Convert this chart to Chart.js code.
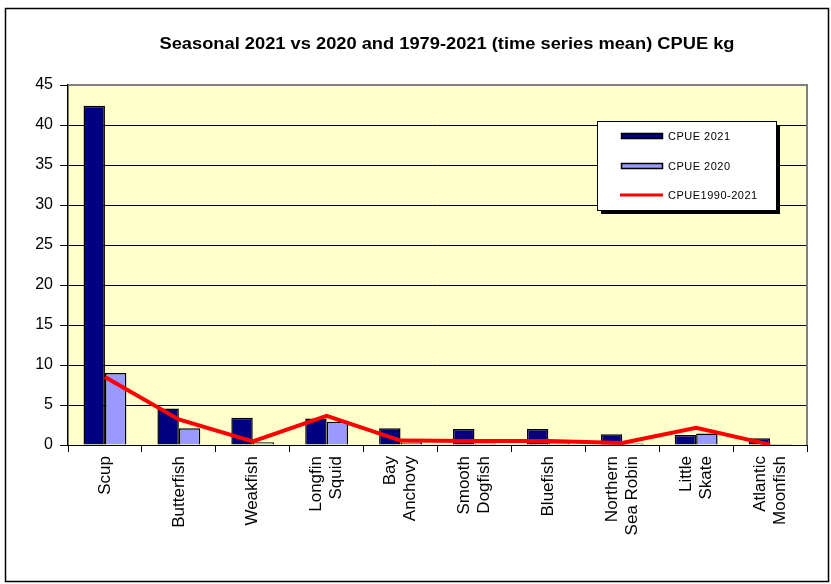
<!DOCTYPE html>
<html>
<head>
<meta charset="utf-8">
<script src="https://cdn.jsdelivr.net/npm/chart.js@4/dist/chart.umd.min.js"></script>
<style>
  html, body { margin: 0; padding: 0; background: #ffffff; }
  #wrap { position: relative; width: 831px; height: 584px; }
</style>
</head>
<body>
<div id="wrap"><canvas id="c" width="831" height="584"></canvas></div>
<script>
// Species (multi-line where the axis label wraps)
const categories = [
  ["Scup"], ["Butterfish"], ["Weakfish"], ["Longfin", "Squid"], ["Bay", "Anchovy"],
  ["Smooth", "Dogfish"], ["Bluefish"], ["Northern", "Sea Robin"], ["Little", "Skate"], ["Atlantic", "Moonfish"]
];
// CPUE (kg) per species
const cpue2021 = [42.4, 4.55, 3.4, 3.3, 2.1, 2.0, 2.0, 1.35, 1.25, 0.85];
const cpue2020 = [9.0, 2.1, 0.35, 2.9, 0.3, 0.2, 0.55, 0.2, 1.45, 0.12];
const cpueMean = [8.5, 3.2, 0.45, 3.65, 0.55, 0.5, 0.5, 0.25, 2.15, 0.05];
const seriesLabels = ["CPUE 2021", "CPUE 2020", "CPUE1990-2021"];
const yMin = 0, yMax = 45, yStep = 5;
const titleText = "Seasonal 2021 vs 2020 and 1979-2021 (time series mean) CPUE kg";

const NAVY = "#000080", LILAC = "#9999ff", RED = "#ff0000";
const FONT = "'Liberation Sans', Arial, sans-serif";

// Frame, title, plot background and border
const framePlugin = {
  id: "frame",
  beforeDraw(chart) {
    const { ctx, chartArea: a } = chart;
    ctx.save();
    ctx.fillStyle = "#ffffcc";
    ctx.fillRect(a.left, a.top, a.right - a.left, a.bottom - a.top);
    ctx.restore();
  },
  afterDatasetsDraw(chart) {
    const { ctx, chartArea: a } = chart;
    ctx.save();
    ctx.strokeStyle = "#808080";
    ctx.lineWidth = 2;
    ctx.beginPath();
    ctx.moveTo(a.left, a.top);
    ctx.lineTo(a.right, a.top);
    ctx.lineTo(a.right, a.bottom);
    ctx.stroke();
    ctx.restore();
  },
  afterDraw(chart) {
    const { ctx } = chart;
    ctx.save();
    ctx.strokeStyle = "#000";
    ctx.lineWidth = 1.5;
    ctx.strokeRect(5.5, 8.5, 823, 573);
    // title, stretched to its set width
    ctx.fillStyle = "#000";
    ctx.font = "bold 16px " + FONT;
    ctx.textAlign = "center";
    ctx.textBaseline = "middle";
    const w = ctx.measureText(titleText).width;
    ctx.translate(447, 45);
    ctx.scale(575 / w, 1);
    ctx.fillText(titleText, 0, 0);
    ctx.restore();
  }
};

// Vertical category labels, multi-line labels centred on the category
const xLabels = {
  id: "xLabels",
  afterDraw(chart) {
    const { ctx } = chart;
    const sx = chart.scales.x;
    const top = chart.chartArea.bottom + 11;
    const lh = 20;
    ctx.save();
    ctx.fillStyle = "#000";
    ctx.font = "17px " + FONT;
    ctx.textAlign = "right";
    ctx.textBaseline = "middle";
    chart.data.labels.forEach((lines, i) => {
      const cx = sx.getPixelForValue(i);
      lines.forEach((t, j) => {
        const off = (j - (lines.length - 1) / 2) * lh;
        ctx.save();
        ctx.translate(cx + off, top);
        ctx.rotate(-Math.PI / 2);
        ctx.fillText(t, 0, 0);
        ctx.restore();
      });
    });
    ctx.restore();
  }
};

// Boxed legend with drop shadow inside the plot
const boxLegend = {
  id: "boxLegend",
  afterDraw(chart) {
    const { ctx } = chart;
    const x = 597, y = 121, w = 179, h = 89;
    ctx.save();
    ctx.fillStyle = "#000";
    ctx.fillRect(x + 4, y + 4, w, h);
    ctx.fillStyle = "#fff";
    ctx.fillRect(x, y, w, h);
    ctx.strokeStyle = "#000";
    ctx.lineWidth = 1;
    ctx.strokeRect(x + 0.5, y + 0.5, w, h);
    ctx.font = "11px " + FONT;
    ctx.letterSpacing = "0.5px";
    ctx.textBaseline = "middle";
    ctx.textAlign = "left";
    const rows = [136, 166, 195];
    chart.data.datasets.forEach((ds, i) => {
      const cy = rows[i];
      if (ds.type === "line") {
        ctx.strokeStyle = ds.borderColor;
        ctx.lineWidth = 3;
        ctx.beginPath();
        ctx.moveTo(620, cy);
        ctx.lineTo(663, cy);
        ctx.stroke();
      } else {
        ctx.fillStyle = ds.backgroundColor;
        ctx.fillRect(621, cy - 3, 42, 6);
        ctx.strokeStyle = "#000";
        ctx.lineWidth = 1.5;
        ctx.strokeRect(621.5, cy - 2.5, 41, 5);
      }
      ctx.fillStyle = "#000";
      ctx.fillText(ds.label, 668, cy + 0.5);
    });
    ctx.restore();
  }
};

new Chart(document.getElementById("c"), {
  data: {
    labels: categories,
    datasets: [
      { type: "bar", label: seriesLabels[0], data: cpue2021, backgroundColor: NAVY,
        borderColor: "#000", borderWidth: 1.5, order: 1 },
      { type: "bar", label: seriesLabels[1], data: cpue2020, backgroundColor: LILAC,
        borderColor: "#000", borderWidth: 1.5, order: 1 },
      { type: "line", label: seriesLabels[2], data: cpueMean, borderColor: RED,
        backgroundColor: RED, borderWidth: 4, pointRadius: 0, tension: 0, order: 0 }
    ]
  },
  options: {
    responsive: false,
    animation: false,
    devicePixelRatio: 1,
    layout: { padding: { left: 0, right: 24, top: 85, bottom: 0 } },
    datasets: { bar: { categoryPercentage: 0.58, barPercentage: 1.0 } },
    plugins: { legend: { display: false }, title: { display: false }, tooltip: { enabled: false } },
    scales: {
      x: {
        offset: true,
        afterFit(s) { s.height = 139; },
        grid: { offset: true, drawOnChartArea: false, drawTicks: true, tickLength: 7, color: "#000" },
        border: { color: "#000", width: 1 },
        ticks: { display: false, autoSkip: false }
      },
      y: {
        min: yMin, max: yMax,
        afterFit(s) { s.width = 68; },
        grid: { color: "#000", lineWidth: 1, drawTicks: true, tickLength: 8 },
        border: { color: "#000", width: 1.5 },
        ticks: {
          stepSize: yStep, padding: 7, color: "#000",
          font: { family: FONT, size: 16 }
        }
      }
    }
  },
  plugins: [framePlugin, xLabels, boxLegend]
});
</script>
</body>
</html>
